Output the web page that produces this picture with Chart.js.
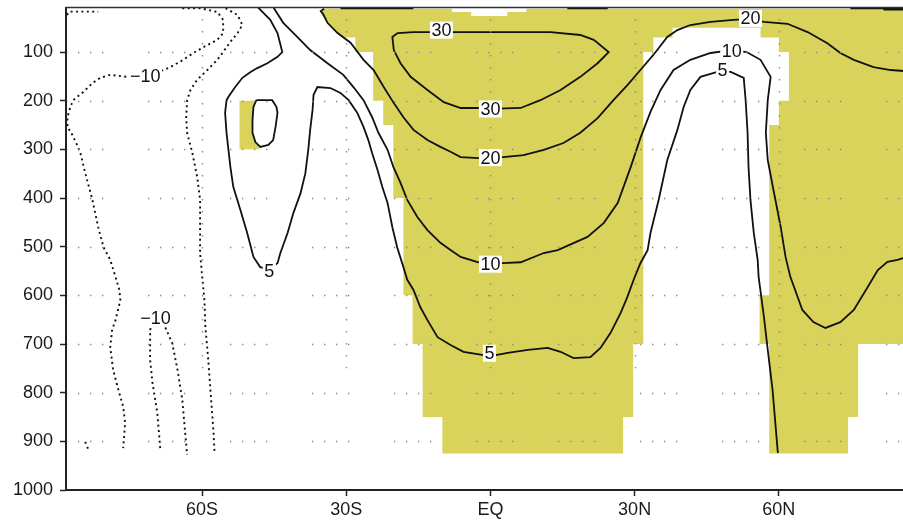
<!DOCTYPE html>
<html><head><meta charset="utf-8">
<script src="https://cdn.jsdelivr.net/npm/chart.js@4.4.0/dist/chart.umd.min.js"></script>
<style>
html,body{margin:0;padding:0;overflow:hidden;background:#fff;width:903px;height:526px}
#wrap{position:absolute;left:0;top:0;width:917px;height:526px}
</style>
</head><body><div id="wrap"><canvas id="c"></canvas></div>
<script>
// ---- axes ----
const xTickValues = [-60, -30, 0, 30, 60];
const xTickLabels = ['60S', '30S', 'EQ', '30N', '60N'];
const yTickValues = [100, 200, 300, 400, 500, 600, 700, 800, 900, 1000];
const vGridBottom = 750;

// ---- contours: [latitude, pressure hPa] ----
const contour5 = [[-48.3,9],[-45.8,34],[-44.3,61],[-43.3,100],[-44.3,110],[-46.4,123],[-48.5,133],[-49.9,141],[-51.6,153],[-53.1,172],[-54.5,192],[-54.9,199],[-55.2,225],[-54.9,266],[-54.5,301],[-54.1,336],[-53.5,377],[-52.0,425],[-50.6,472],[-49.3,521],[-47.9,542],[-46.2,546],[-44.3,534],[-43.7,513],[-42.2,472],[-41.0,431],[-39.5,390],[-38.5,349],[-37.9,301],[-37.5,260],[-37.0,219],[-36.8,188],[-36.0,172],[-33.3,174],[-31.2,184],[-29.5,199],[-27.7,225],[-26.4,254],[-25.4,281],[-24.6,308],[-23.5,342],[-22.5,377],[-21.4,410],[-20.4,460],[-19.4,501],[-18.1,542],[-17.3,568],[-16.0,589],[-14.6,624],[-13.1,651],[-11.0,686],[-8.3,702],[-5.6,716],[-1.4,723],[1.1,723],[3.6,718],[7.8,712],[11.9,708],[14.6,716],[17.3,729],[20.8,727],[22.9,708],[25.0,677],[27.1,636],[28.5,603],[29.8,568],[31.2,534],[32.7,507],[33.3,472],[35.0,404],[36.8,322],[38.9,260],[40.2,213],[41.6,178],[43.7,151],[47.2,141],[50.0,141],[52.7,153],[53.1,199],[53.5,266],[53.7,336],[54.1,404],[54.8,472],[55.6,527],[55.8,562],[56.9,644],[57.7,712],[58.7,794],[59.4,877],[59.8,924]];
const contour10 = [[-45.1,9],[-43.1,40],[-40.2,69],[-37.5,96],[-33.9,123],[-30.6,147],[-28.5,172],[-26.4,199],[-24.6,234],[-23.3,266],[-21.4,301],[-20.2,336],[-18.7,369],[-17.3,404],[-15.2,439],[-13.1,466],[-10.4,492],[-8.3,507],[-6.2,521],[-2.5,532],[0,535],[2.5,534],[6.3,532],[11.1,513],[14.0,507],[20.2,480],[23.6,451],[26.5,410],[29.2,336],[31.2,277],[33.3,223],[35.4,178],[38.1,137],[41.6,116],[45.8,102],[50.2,96],[53.3,100],[56.2,116],[58.3,151],[57.7,199],[57.3,266],[57.7,322],[58.9,384],[60.4,460],[61.4,521],[62.4,562],[64.9,630],[67.2,655],[69.7,667],[72.8,655],[75.6,630],[78.5,583],[80.6,548],[82.6,531],[84.7,527],[86.0,523],[88.4,519]];
const contour20 = [[-34.6,11],[-35.3,16],[-34.8,22],[-33.9,40],[-31.8,61],[-29.1,81],[-26.4,116],[-24.3,137],[-22.2,172],[-20.1,205],[-18.1,234],[-16.0,260],[-13.1,281],[-10.4,295],[-8.3,305],[-6.2,316],[-2.5,318],[0,318],[2.7,316],[6.9,312],[11.1,301],[15.2,287],[18.7,266],[22.3,236],[25.6,199],[28.5,168],[31.2,137],[33.9,106],[36.8,69],[38.9,55],[41.6,44.5],[45.8,38],[50.6,34],[54.1,32],[56.9,38],[61.8,42],[66.0,59],[70.1,82],[72.8,102],[75.6,116],[79.7,131],[83.3,137],[86.0,139],[89.5,141]];
const contour30 = [[-16.0,59],[-9.9,59],[-7.7,59],[-2.1,59],[4.8,59],[12.5,59],[18.7,65],[21.5,75],[24.6,100],[22.3,123],[18.7,151],[14.6,178],[10.4,199],[6.3,215],[0,217],[-2.7,215],[-6.2,215],[-9.7,203],[-13.1,178],[-16.6,151],[-18.7,123],[-20.1,96],[-20.4,69],[-19.3,61],[-16.0,59]];
const loop55S = [[-48.7,199],[-45.4,199],[-44.5,213],[-44.3,225],[-44.7,254],[-45.2,281],[-46.2,291],[-47.9,295],[-48.9,285],[-49.5,266],[-49.5,240],[-49.3,213],[-48.7,199]];
const neg10a = [[-64.1,10],[-60.4,10],[-56.8,17.8],[-55.6,34],[-55.6,61],[-56.8,75],[-59.7,90],[-61.8,102],[-63.9,116],[-66.6,131],[-68.0,137],[-71.8,149],[-75.5,151],[-79.1,147],[-81.2,153],[-82.8,164],[-84.7,182],[-86.8,199],[-87.4,213],[-88.0,234],[-88.0,254],[-87.0,270],[-86.0,291],[-85.3,308],[-84.3,349],[-82.8,404],[-81.6,460],[-80.5,501],[-79.1,527],[-78.0,562],[-77.2,589],[-77.0,610],[-78.0,651],[-78.7,671],[-79.1,706],[-78.5,753],[-77.4,794],[-76.4,829],[-76.0,862],[-76.4,914]];
const neg10b = [[-55.1,10],[-52.6,24],[-51.6,44.5],[-52.6,61],[-54.1,79],[-55.6,100],[-56.8,116],[-58.9,137],[-61.0,157],[-62.4,178],[-63.1,199],[-63.3,234],[-63.1,266],[-62.0,308],[-61.0,357],[-60.4,404],[-60.4,460],[-60.4,513],[-59.9,568],[-59.5,610],[-59.3,665],[-58.7,733],[-58.3,788],[-57.9,842],[-57.6,883],[-57.4,924]];
const neg10c = [[-68.7,914],[-69.3,842],[-70.3,780],[-70.8,733],[-70.8,671],[-70.0,650],[-68.5,650],[-67.6,667],[-66.2,698],[-65.1,753],[-64.1,815],[-63.5,883],[-63.1,928]];
const negBitBottom = [[-84.3,901],[-83.6,918]];
const negBitTop = [[-88.1,24],[-87.6,17],[-87.0,17],[-81.6,17]];
const topSeg1 = [[-31.2,9.5],[-16.0,9.5]];
const topSeg2 = [[16.0,9.5],[24.4,9.5]];
const topSeg3 = [[74.9,9.5],[81.8,9.5],[82.0,12],[89.0,12]];

// ---- shaded areas ----
const shadeMain = [[-35.0,11],[-8,11],[-8,18],[-4,18],[-4,26],[3.5,26],[3.5,18],[7.5,18],[7.5,11],[90,11],[90,700],[76.5,700],[76.5,850],[74.4,850],[74.4,925],[58.0,925],[58.0,700],[56.0,700],[56.0,600],[58.0,600],[58.0,250],[60.0,250],[60.0,200],[62.1,200],[62.1,100],[60.0,100],[60.0,70],[56.2,70],[56.2,50],[37.9,50],[37.9,70],[33.9,70],[33.9,100],[31.8,100],[31.8,700],[29.7,700],[29.7,850],[27.6,850],[27.6,925],[-10.0,925],[-10.0,850],[-14.1,850],[-14.1,700],[-16.2,700],[-16.2,600],[-18.1,600],[-18.1,400],[-20.2,400],[-20.2,250],[-22.3,250],[-22.3,200],[-24.4,200],[-24.4,100],[-28.1,100],[-28.1,70],[-30.5,70],[-31.8,61],[-33.9,40],[-35.1,24],[-35.0,11]];
const shadeSmall = [[-52.2,200],[-48.9,200],[-49.3,215],[-49.5,240],[-49.5,266],[-48.9,285],[-48.0,300],[-52.2,300]];

// ---- contour labels ----
const labelTexts = ['30', '30', '20', '10', '5', '20', '10', '5', '\u221210', '\u221210', '5'];
const labelLats  = [-10.2, 0, 0, 0, -0.2, 54.1, 50.2, 48.3, -71.8, -69.7, -46.0];
const labelPs    = [55, 217, 317, 536, 719, 31, 97, 137, 149, 647, 550];

const YELLOW = '#d9d35c';
const INK = '#111';
const GRID = '#8c8c8c';
const FONT = '"Liberation Sans", Arial, sans-serif';
const ROW_DASH = [1.4, 10.6, 1.4, 10.6, 1.4, 10.6, 1.4, 44.6];

const toXY = arr => arr.map(([lat, p]) => ({x: lat, y: p}));
function solid(arr, w) {
  return {data: toXY(arr), showLine: true, borderColor: INK, borderWidth: w || 1.8, pointRadius: 0, fill: false, tension: 0};
}
function dotted(arr) {
  return {data: toXY(arr), showLine: true, borderColor: INK, borderWidth: 1.9, borderDash: [2, 3.4], pointRadius: 0, fill: false, tension: 0};
}
function shade(arr) {
  return {data: toXY(arr), showLine: true, borderWidth: 0, borderColor: 'rgba(0,0,0,0)', backgroundColor: YELLOW, pointRadius: 0, fill: 'shape', tension: 0};
}

const overlay = {
  id: 'overlay',
  afterDatasetsDraw(chart) {
    const {ctx, scales: {x, y}, chartArea} = chart;
    ctx.save();
    ctx.strokeStyle = GRID;
    ctx.lineWidth = 1.4;
    ctx.setLineDash(ROW_DASH);
    yTickValues.forEach(v => {
      if (v >= 1000) return;
      const py = Math.round(y.getPixelForValue(v)) + 0.5;
      ctx.beginPath();
      ctx.moveTo(chartArea.left, py);
      ctx.lineTo(chartArea.right, py);
      ctx.stroke();
    });
    ctx.setLineDash([1.4, 10.6]);
    xTickValues.forEach(v => {
      const px = Math.round(x.getPixelForValue(v)) + 0.5;
      ctx.beginPath();
      ctx.moveTo(px, chartArea.top + 12);
      ctx.lineTo(px, y.getPixelForValue(vGridBottom));
      ctx.stroke();
    });
    ctx.restore();
  },
  afterDraw(chart) {
    const {ctx, scales: {x, y}, chartArea} = chart;
    ctx.save();
    ctx.strokeStyle = '#222';
    ctx.lineWidth = 2;
    ctx.beginPath();
    ctx.moveTo(chartArea.left, chartArea.top);
    ctx.lineTo(chartArea.left, chartArea.bottom);
    ctx.lineTo(chartArea.right, chartArea.bottom);
    ctx.stroke();
    ctx.strokeStyle = '#333';
    ctx.lineWidth = 1.3;
    ctx.beginPath();
    ctx.moveTo(chartArea.left, chartArea.top + 0.5);
    ctx.lineTo(chartArea.right, chartArea.top + 0.5);
    ctx.stroke();
    ctx.font = '18px ' + FONT;
    ctx.textAlign = 'center';
    ctx.textBaseline = 'middle';
    labelTexts.forEach((t, i) => {
      const px = x.getPixelForValue(labelLats[i]);
      const py = y.getPixelForValue(labelPs[i]);
      const w = ctx.measureText(t).width;
      ctx.fillStyle = '#fff';
      ctx.fillRect(px - w / 2 - 1.5, py - 8.5, w + 3, 17);
      ctx.fillStyle = INK;
      ctx.fillText(t, px, py + 1);
    });
    ctx.restore();
  }
};

new Chart(document.getElementById('c'), {
  type: 'scatter',
  data: {
    datasets: [
      solid(contour5), solid(contour10), solid(contour20), solid(contour30), solid(loop55S),
      dotted(neg10a), dotted(neg10b), dotted(neg10c), dotted(negBitBottom), dotted(negBitTop),
      solid(topSeg1, 2.6), solid(topSeg2, 2.6), solid(topSeg3, 2.6),
      shade(shadeSmall), shade(shadeMain)
    ]
  },
  options: {
    responsive: true,
    maintainAspectRatio: false,
    animation: false,
    events: [],
    layout: {padding: {top: 7, left: 0, right: 0, bottom: 0}},
    plugins: {legend: {display: false}, tooltip: {enabled: false}},
    scales: {
      x: {
        type: 'linear', min: -88.3, max: 88.75,
        afterBuildTicks: s => { s.ticks = xTickValues.map(v => ({value: v})); },
        afterFit: s => { s.height = 36; s.paddingLeft = 0; s.paddingRight = 0; },
        ticks: {
          callback: v => xTickLabels[xTickValues.indexOf(v)] || '',
          font: {family: FONT, size: 18}, color: '#1a1a1a', padding: 3, maxRotation: 0, autoSkip: false
        },
        grid: {drawOnChartArea: false, drawTicks: true, tickLength: 6, tickColor: '#222', tickWidth: 1.5},
        border: {display: false}
      },
      y: {
        type: 'linear', reverse: true, min: 7.5, max: 1000,
        afterBuildTicks: s => { s.ticks = yTickValues.map(v => ({value: v})); },
        afterFit: s => { s.width = 66; s.paddingTop = 0; s.paddingBottom = 0; },
        ticks: {
          callback: v => String(v),
          font: {family: FONT, size: 18}, color: '#1a1a1a', padding: 7, autoSkip: false
        },
        grid: {drawOnChartArea: false, drawTicks: true, tickLength: 6, tickColor: '#222', tickWidth: 1.5},
        border: {display: false}
      }
    }
  },
  plugins: [overlay]
});
</script></body></html>
